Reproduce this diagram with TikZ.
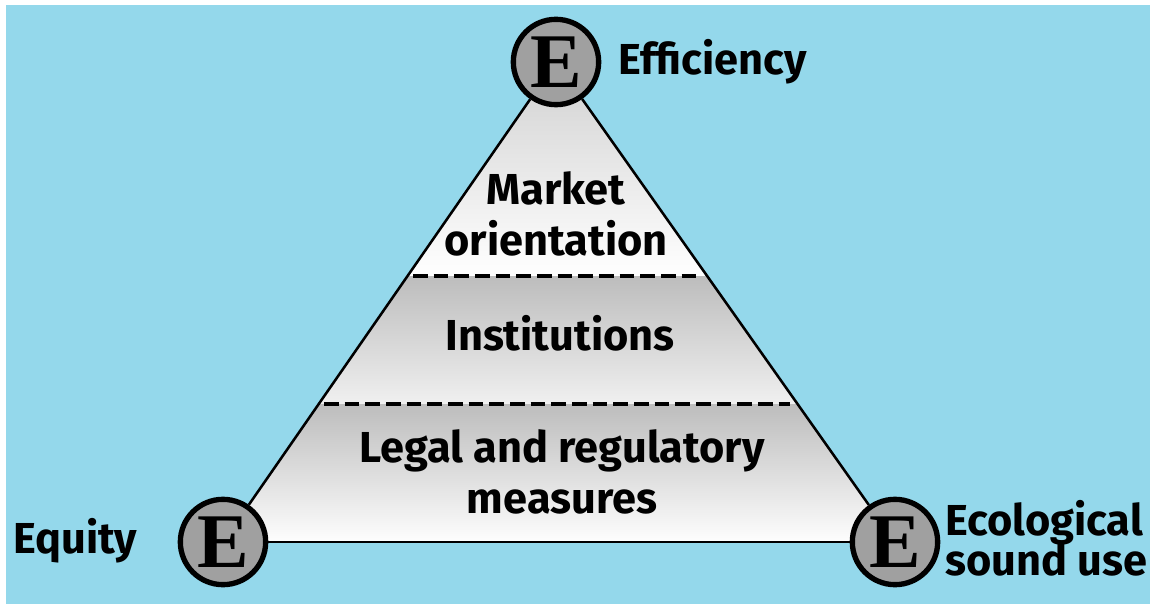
\documentclass[tikz,border=0pt]{standalone}
\usepackage{fontspec}
\setmainfont{Fira Sans}
\newfontfamily\letterfont{Liberation Serif}
\definecolor{skyback}{RGB}{148,216,235}
\definecolor{egrey}{RGB}{160,160,160}

\begin{document}
\begin{tikzpicture}[x=0.75pt,y=-0.75pt,
	ecircle/.style={circle,draw=black,line width=4pt,fill=egrey,minimum size=64pt,inner sep=0pt,font=\letterfont\bfseries\fontsize{58}{58}\selectfont},
	lbl/.style={font=\bfseries\fontsize{32.5}{38}\selectfont,inner sep=0pt,align=center},
	edge/.style={line width=1.9pt},
	sep/.style={line width=3.2pt,dash pattern=on 11pt off 4.5pt}]
	\useasboundingbox (0,0) rectangle (1150,606);
	\fill[white] (0,0) rectangle (1150,606);
	\fill[skyback] (6,5) rectangle (1150,604);
	% corners of the pyramid
	\coordinate (top) at (556,62);
	\coordinate (left) at (223,542);
	\coordinate (right) at (895,542);
	\begin{scope}
		\clip (top) -- (left) -- (right) -- cycle;
		\shade[top color=black!20,bottom color=white] (200,40) rectangle (920,276);
		\shade[top color=black!26,bottom color=black!6] (200,276) rectangle (920,404);
		\shade[top color=black!26,bottom color=white] (200,404) rectangle (920,545);
	\end{scope}
	\draw[sep] (413,276) -- (702,276);
	\draw[sep] (324,404) -- (790,404);
	% the three E's
	\node[ecircle] (eff) at (top) {E};
	\node[ecircle] (equ) at (left) {E};
	\node[ecircle] (eco) at (right) {E};
	\draw[edge] (eff) -- (equ);
	\draw[edge] (equ) -- (eco);
	\draw[edge] (eco) -- (eff);
	% labels
	\node[lbl,anchor=base west] (effl) at (618,75) {Efficiency};
	\node[lbl,anchor=base west] (equl) at (13,553) {Equity};
	\node[lbl,anchor=base west,align=left] (ecol) at (945,535) {Ecological};
	\node[lbl,anchor=base west,align=left] (ecol2) at (945,575) {sound use};
	\node[lbl] (market) at (556,214) {Market\\orientation};
	\node[lbl] (inst) at (560,333) {Institutions};
	\node[lbl] (legal) at (562,472) {Legal and regulatory\\measures};
\end{tikzpicture}
\end{document}
